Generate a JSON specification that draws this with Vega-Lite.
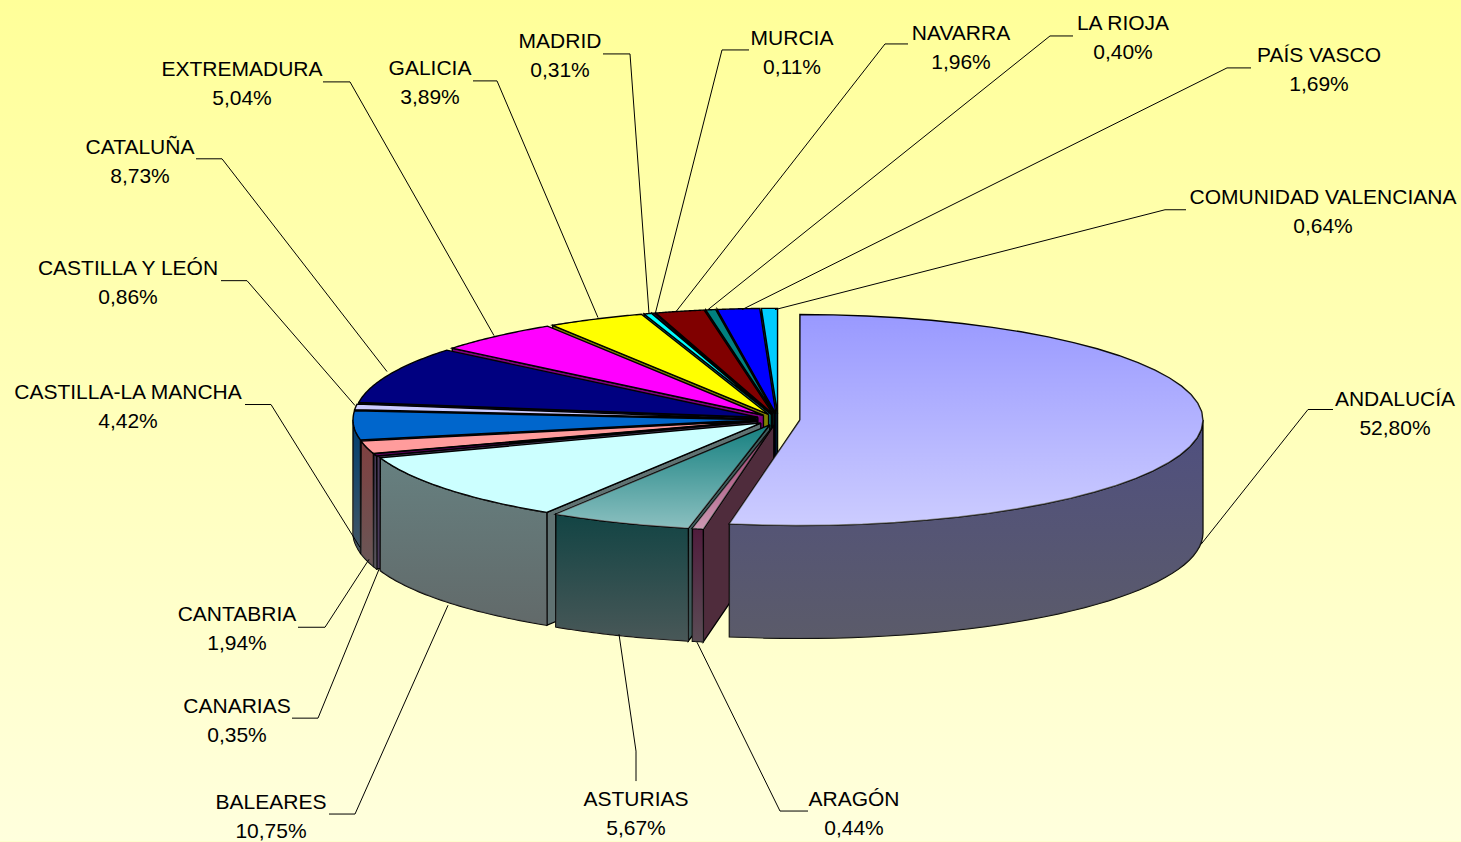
{"$schema":"https://vega.github.io/schema/vega-lite/v6.json","width":1461,"height":842,"padding":0,"autosize":{"type":"fit","contains":"padding"},"background":"#FFFFCC","view":{"stroke":null,"fill":{"gradient":"linear","x1":0,"y1":0,"x2":0,"y2":1,"stops":[{"offset":0,"color":"#FFFF99"},{"offset":1,"color":"#FFFFDD"}]}},
"data":{"values":[
{"ord":17,"region":"COMUNIDAD VALENCIANA","pct":0.64},
{"ord":16,"region":"PAÍS VASCO","pct":1.69},
{"ord":15,"region":"LA RIOJA","pct":0.40},
{"ord":14,"region":"NAVARRA","pct":1.96},
{"ord":13,"region":"MURCIA","pct":0.11},
{"ord":12,"region":"MADRID","pct":0.31},
{"ord":11,"region":"GALICIA","pct":3.89},
{"ord":10,"region":"EXTREMADURA","pct":5.04},
{"ord":9,"region":"CATALUÑA","pct":8.73},
{"ord":8,"region":"CASTILLA Y LEÓN","pct":0.86},
{"ord":7,"region":"CASTILLA-LA MANCHA","pct":4.42},
{"ord":6,"region":"CANTABRIA","pct":1.94},
{"ord":5,"region":"CANARIAS","pct":0.35},
{"ord":4,"region":"BALEARES","pct":10.75},
{"ord":3,"region":"ASTURIAS","pct":5.67},
{"ord":2,"region":"ARAGÓN","pct":0.44},
{"ord":1,"region":"ANDALUCÍA","pct":52.80}
]},
"transform":[
{"window":[{"op":"sum","field":"pct","as":"cum"}],"sort":[{"field":"ord","order":"ascending"}]},
{"calculate":"(datum.cum-datum.pct)*PI/50","as":"a0"},
{"calculate":"datum.cum*PI/50","as":"a1"},
{"calculate":"(datum.a0+datum.a1)/2","as":"mid"},
{"calculate":"778+22*sin(datum.mid)","as":"cx"},
{"calculate":"420-5.7*cos(datum.mid)","as":"cy"},
{"calculate":"max(datum.a0,PI/2)","as":"b0"},
{"calculate":"min(datum.a1,3*PI/2)","as":"b1"},
{"calculate":"['f','w','t']","as":"part"},
{"flatten":["part"]},
{"filter":"(datum.part!='w'||(datum.a1>PI/2&&datum.a0<3*PI/2))&&(datum.part!='f'||datum.a0>PI)"},
{"calculate":"[0,1,2]","as":"lvl"},
{"flatten":["lvl"]},
{"calculate":"[-1,0,0.025,0.05,0.075,0.1,0.125,0.15,0.175,0.2,0.225,0.25,0.275,0.3,0.325,0.35,0.375,0.4,0.425,0.45,0.475,0.5,0.525,0.55,0.575,0.6,0.625,0.65,0.675,0.7,0.725,0.75,0.775,0.8,0.825,0.85,0.875,0.9,0.925,0.95,0.975,1,2]","as":"s"},
{"flatten":["s"]},
{"filter":"datum.part=='t'?datum.lvl==0:(datum.part=='w'?((datum.lvl<2&&datum.s>=0&&datum.s<=1)||(datum.lvl==2&&datum.s==0)):((datum.lvl<2&&(datum.s==-1||datum.s==0))||(datum.lvl==2&&datum.s==-1)))"},
{"calculate":"datum.part=='w'?datum.b0+(datum.b1-datum.b0)*datum.s:datum.a0+(datum.a1-datum.a0)*datum.s","as":"ang"},
{"calculate":"(datum.s<0||datum.s>1)?datum.cx:datum.cx+403*sin(datum.ang)","as":"px"},
{"calculate":"((datum.s<0||datum.s>1)?datum.cy:datum.cy-105.6*cos(datum.ang))+(datum.lvl==1?113:0)","as":"py"},
{"calculate":"datum.lvl==0?datum.s:(datum.lvl==1?10-datum.s:100)","as":"seq"},
{"calculate":"datum.ord+datum.part","as":"sid"},
{"calculate":"(datum.part=='t'?'t':((datum.part=='f'&&datum.ord<=5)?'f':'d'))+datum.ord","as":"key"}
],
"encoding":{"x":{"field":"px","type":"quantitative","axis":null,"scale":{"domain":[0,1461],"nice":false,"zero":false}},"y":{"field":"py","type":"quantitative","axis":null,"scale":{"domain":[842,0],"nice":false,"zero":false}},"order":{"field":"seq","type":"quantitative"},"detail":{"field":"sid"}},
"layer":[
{"mark":{"type":"line","filled":true,"stroke":"#000000","strokeWidth":1.4,"strokeJoin":"miter"},
"encoding":{"color":{"field":"key","type":"nominal","legend":null,"scale":{
"domain":["t1","d1","t2","d2","f2","t3","d3","f3","t4","d4","f4","t5","d5","f5","t6","d6","t7","d7","t8","d8","t9","d9","t10","d10","t11","d11","t12","d12","t13","d13","t14","d14","t15","d15","t16","d16","t17","d17"],
"range":["#9999FF","#4F4F80","#993366","#501C3C","#4F2C3C","#168080","#124444","#3F5A5A","#CCFFFF","#668080","#607272","#660066","#4A3A5A","#4A3A5A","#FF9C9C","#804040","#0066CC","#003F70","#CCCCFF","#666680","#000080","#000040","#FF00FF","#800080","#FFFF00","#808000","#00FFFF","#008080","#800080","#400040","#800000","#400000","#008080","#004040","#0000FF","#000080","#00CCFF","#006680"]}}}},
{"transform":[{"filter":"datum.part=='w'"}],"mark":{"type":"line","filled":true,"strokeWidth":0,"fill":{"gradient":"linear","x1":0,"y1":0,"x2":0,"y2":1,"stops":[{"offset":0,"color":"rgba(96,96,96,0)"},{"offset":1,"color":"rgba(96,96,96,0.7)"}]}}},
{"transform":[{"filter":"datum.part=='t'&&datum.ord<=3"}],"mark":{"type":"line","filled":true,"strokeWidth":0,"fill":{"gradient":"linear","x1":0,"y1":0,"x2":0,"y2":1,"stops":[{"offset":0,"color":"rgba(255,255,255,0)"},{"offset":1,"color":"rgba(255,255,255,0.5)"}]}}},
{"data":{"values":[
{"region":"ANDALUCÍA","seq":1,"x":1333,"y":410},{"region":"ANDALUCÍA","seq":2,"x":1308,"y":410},{"region":"ANDALUCÍA","seq":3,"x":1201,"y":545},
{"region":"COMUNIDAD VALENCIANA","seq":1,"x":1186,"y":210},{"region":"COMUNIDAD VALENCIANA","seq":2,"x":1165,"y":210},{"region":"COMUNIDAD VALENCIANA","seq":3,"x":775,"y":310},
{"region":"PAÍS VASCO","seq":1,"x":1251,"y":68},{"region":"PAÍS VASCO","seq":2,"x":1227,"y":68},{"region":"PAÍS VASCO","seq":3,"x":742,"y":310},
{"region":"LA RIOJA","seq":1,"x":1073,"y":36},{"region":"LA RIOJA","seq":2,"x":1050,"y":36},{"region":"LA RIOJA","seq":3,"x":708,"y":310},
{"region":"NAVARRA","seq":1,"x":908,"y":44},{"region":"NAVARRA","seq":2,"x":885,"y":44},{"region":"NAVARRA","seq":3,"x":676,"y":312},
{"region":"MURCIA","seq":1,"x":749,"y":50},{"region":"MURCIA","seq":2,"x":722,"y":50},{"region":"MURCIA","seq":3,"x":655,"y":315},
{"region":"MADRID","seq":1,"x":603,"y":54},{"region":"MADRID","seq":2,"x":630,"y":54},{"region":"MADRID","seq":3,"x":649,"y":314},
{"region":"GALICIA","seq":1,"x":473,"y":81},{"region":"GALICIA","seq":2,"x":497,"y":81},{"region":"GALICIA","seq":3,"x":598,"y":318},
{"region":"EXTREMADURA","seq":1,"x":323,"y":82},{"region":"EXTREMADURA","seq":2,"x":350,"y":82},{"region":"EXTREMADURA","seq":3,"x":494,"y":336},
{"region":"CATALUÑA","seq":1,"x":196,"y":159},{"region":"CATALUÑA","seq":2,"x":222,"y":159},{"region":"CATALUÑA","seq":3,"x":387,"y":372},
{"region":"CASTILLA Y LEÓN","seq":1,"x":221,"y":281},{"region":"CASTILLA Y LEÓN","seq":2,"x":247,"y":281},{"region":"CASTILLA Y LEÓN","seq":3,"x":355,"y":406},
{"region":"CASTILLA-LA MANCHA","seq":1,"x":245,"y":405},{"region":"CASTILLA-LA MANCHA","seq":2,"x":271,"y":405},{"region":"CASTILLA-LA MANCHA","seq":3,"x":360,"y":548},
{"region":"CANTABRIA","seq":1,"x":298,"y":628},{"region":"CANTABRIA","seq":2,"x":325,"y":628},{"region":"CANTABRIA","seq":3,"x":369,"y":560},
{"region":"CANARIAS","seq":1,"x":292,"y":719},{"region":"CANARIAS","seq":2,"x":318,"y":719},{"region":"CANARIAS","seq":3,"x":379,"y":570},
{"region":"BALEARES","seq":1,"x":329,"y":815},{"region":"BALEARES","seq":2,"x":355,"y":815},{"region":"BALEARES","seq":3,"x":448,"y":606},
{"region":"ASTURIAS","seq":1,"x":636,"y":782},{"region":"ASTURIAS","seq":2,"x":636,"y":752},{"region":"ASTURIAS","seq":3,"x":619,"y":635},
{"region":"ARAGÓN","seq":1,"x":808,"y":812},{"region":"ARAGÓN","seq":2,"x":780,"y":812},{"region":"ARAGÓN","seq":3,"x":697,"y":643}
]},"mark":{"type":"line","color":"#000000","strokeWidth":1},
"encoding":{"x":{"field":"x","type":"quantitative","axis":null},"y":{"field":"y","type":"quantitative","axis":null},"order":{"field":"seq","type":"quantitative"},"detail":{"field":"region"}}},
{"data":{"name":"labels","values":[
{"region":"ANDALUCÍA","pct":"52,80%","lx":1395,"ly":399},
{"region":"COMUNIDAD VALENCIANA","pct":"0,64%","lx":1323,"ly":197},
{"region":"PAÍS VASCO","pct":"1,69%","lx":1319,"ly":55},
{"region":"LA RIOJA","pct":"0,40%","lx":1123,"ly":23},
{"region":"NAVARRA","pct":"1,96%","lx":961,"ly":33},
{"region":"MURCIA","pct":"0,11%","lx":792,"ly":38},
{"region":"MADRID","pct":"0,31%","lx":560,"ly":41},
{"region":"GALICIA","pct":"3,89%","lx":430,"ly":68},
{"region":"EXTREMADURA","pct":"5,04%","lx":242,"ly":69},
{"region":"CATALUÑA","pct":"8,73%","lx":140,"ly":147},
{"region":"CASTILLA Y LEÓN","pct":"0,86%","lx":128,"ly":268},
{"region":"CASTILLA-LA MANCHA","pct":"4,42%","lx":128,"ly":392},
{"region":"CANTABRIA","pct":"1,94%","lx":237,"ly":614},
{"region":"CANARIAS","pct":"0,35%","lx":237,"ly":706},
{"region":"BALEARES","pct":"10,75%","lx":271,"ly":802},
{"region":"ASTURIAS","pct":"5,67%","lx":636,"ly":799},
{"region":"ARAGÓN","pct":"0,44%","lx":854,"ly":799}
]},"mark":{"type":"text","font":"Liberation Sans","fontSize":21,"color":"#000000","align":"center","baseline":"middle","dy":1.5},
"encoding":{"x":{"field":"lx","type":"quantitative","axis":null},"y":{"field":"ly","type":"quantitative","axis":null},"text":{"field":"region"}}},
{"data":{"name":"labels"},"mark":{"type":"text","font":"Liberation Sans","fontSize":21,"color":"#000000","align":"center","baseline":"middle","dy":30.5},
"encoding":{"x":{"field":"lx","type":"quantitative","axis":null},"y":{"field":"ly","type":"quantitative","axis":null},"text":{"field":"pct"}}}
]}
